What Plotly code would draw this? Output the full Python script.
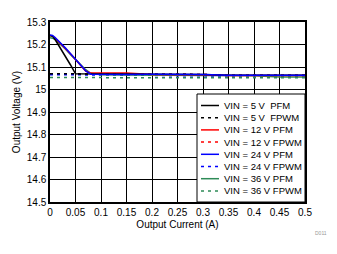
import plotly.graph_objects as go

x = [0, 0.005, 0.01, 0.02, 0.03, 0.04, 0.05, 0.06, 0.07, 0.08, 0.1, 0.15, 0.2, 0.25, 0.3, 0.35, 0.4, 0.45, 0.5]

v5_pfm   = [15.240, 15.236, 15.222, 15.186, 15.150, 15.110, 15.070, 15.070, 15.070, 15.070, 15.070, 15.069, 15.068, 15.068, 15.067, 15.063, 15.063, 15.063, 15.063]
v5_fpwm  = [15.070, 15.070, 15.070, 15.070, 15.070, 15.070, 15.070, 15.070, 15.070, 15.070, 15.070, 15.069, 15.068, 15.068, 15.067, 15.063, 15.063, 15.063, 15.063]
v12_pfm  = [15.240, 15.237, 15.229, 15.207, 15.183, 15.159, 15.133, 15.107, 15.082, 15.073, 15.073, 15.073, 15.067, 15.067, 15.066, 15.062, 15.062, 15.062, 15.062]
v12_fpwm = [15.070, 15.070, 15.070, 15.070, 15.070, 15.070, 15.070, 15.070, 15.070, 15.070, 15.070, 15.069, 15.068, 15.068, 15.067, 15.063, 15.063, 15.063, 15.063]
v24_pfm  = [15.242, 15.240, 15.231, 15.209, 15.185, 15.160, 15.134, 15.108, 15.083, 15.068, 15.067, 15.067, 15.068, 15.068, 15.067, 15.063, 15.063, 15.063, 15.063]
v24_fpwm = [15.066, 15.066, 15.066, 15.066, 15.066, 15.066, 15.066, 15.066, 15.066, 15.066, 15.065, 15.064, 15.063, 15.061, 15.060, 15.060, 15.060, 15.059, 15.059]
v36_pfm  = [15.230, 15.228, 15.222, 15.202, 15.180, 15.156, 15.132, 15.108, 15.088, 15.072, 15.066, 15.064, 15.063, 15.063, 15.062, 15.062, 15.061, 15.056, 15.056]
v36_fpwm = [15.053, 15.053, 15.053, 15.053, 15.053, 15.053, 15.053, 15.053, 15.053, 15.053, 15.053, 15.053, 15.053, 15.053, 15.053, 15.053, 15.052, 15.052, 15.052]

names = ["VIN = 5 V  PFM", "VIN = 5 V  FPWM", "VIN = 12 V PFM", "VIN = 12 V FPWM",
         "VIN = 24 V PFM", "VIN = 24 V FPWM", "VIN = 36 V PFM", "VIN = 36 V FPWM"]
values = [v5_pfm, v5_fpwm, v12_pfm, v12_fpwm, v24_pfm, v24_fpwm, v36_pfm, v36_fpwm]
colors = ["black", "black", "#ff0000", "#ff0000", "#0000ff", "#0000ff", "#2e8b57", "#2e8b57"]
DASH = "3px,4px"
dashes = ["solid", DASH, "solid", DASH, "solid", DASH, "solid", DASH]

xticks = [0, 0.05, 0.1, 0.15, 0.2, 0.25, 0.3, 0.35, 0.4, 0.45, 0.5]
xticklabels = ["0", "0.05", "0.1", "0.15", "0.2", "0.25", "0.3", "0.35", "0.4", "0.45", "0.5"]
yticks = [14.5, 14.6, 14.7, 14.8, 14.9, 15.0, 15.1, 15.2, 15.3]
yticklabels = ["14.5", "14.6", "14.7", "14.8", "14.9", "15", "15.1", "15.2", "15.3"]

fig = go.Figure()
# drawing order (bottom to top)
draw_order = [3, 7, 5, 1, 6, 2, 0, 4]
for i in draw_order:
    fig.add_trace(go.Scatter(x=x, y=values[i], name=names[i], mode="lines",
                             line=dict(color=colors[i], dash=dashes[i], width=1.5),
                             showlegend=False))

fnt = "Liberation Sans, Arial, sans-serif"

# plot-area pixel geometry (for the hand-made legend)
L, R, T, B = 50, 305, 22, 202
def px(xp):
    return (xp - L) / (R - L)
def py(yp):
    return (B - yp) / (B - T)

shapes = [dict(type="rect", xref="paper", yref="paper",
               x0=px(197), x1=px(305), y0=py(94), y1=py(202),
               fillcolor="white", line=dict(color="black", width=1), layer="above")]
annotations = []
row0, step = 105.5, 12.2
for k in range(8):
    yy = row0 + k * step
    shapes.append(dict(type="line", xref="paper", yref="paper",
                       x0=px(201), x1=px(219), y0=py(yy), y1=py(yy),
                       line=dict(color=colors[k], dash=dashes[k], width=1.5), layer="above"))
    annotations.append(dict(text=names[k].replace("  ", "&nbsp; "), xref="paper", yref="paper",
                            x=px(222), y=py(yy), xanchor="left", yanchor="middle",
                            showarrow=False, font=dict(size=9.5, family=fnt, color="black")))
annotations.append(dict(text="D011", xref="paper", yref="paper", x=px(313), y=py(228),
                        xanchor="left", yanchor="top", showarrow=False,
                        font=dict(size=5, color="#999999", family=fnt)))

fig.update_layout(
    width=337, height=254,
    margin=dict(l=L, r=337 - R, t=T, b=254 - B),
    paper_bgcolor="white", plot_bgcolor="white",
    font=dict(family=fnt, size=10, color="black"),
    showlegend=False,
    shapes=shapes, annotations=annotations,
    xaxis=dict(range=[0, 0.5], tickvals=xticks, ticktext=xticklabels,
               showgrid=True, gridcolor="black", gridwidth=1,
               showline=True, linecolor="black", linewidth=1.5, mirror=True,
               zeroline=False, ticks="", title=dict(text="Output Current (A)", font=dict(size=10), standoff=4),
               tickfont=dict(size=10)),
    yaxis=dict(range=[14.5, 15.3], tickvals=yticks, ticktext=yticklabels,
               showgrid=True, gridcolor="black", gridwidth=1,
               showline=True, linecolor="black", linewidth=1.5, mirror=True,
               zeroline=False, ticks="", title=dict(text="Output Voltage (V)", font=dict(size=10), standoff=4),
               tickfont=dict(size=10)),
)
fig.write_html("out.html")
